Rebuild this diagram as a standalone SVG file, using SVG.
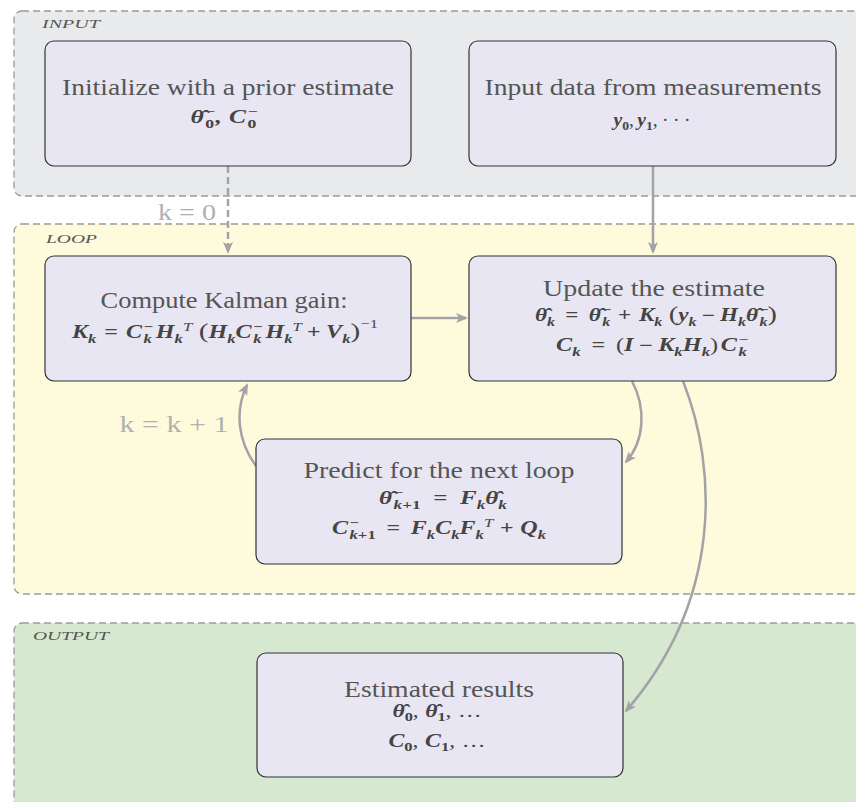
<svg xmlns="http://www.w3.org/2000/svg" width="856" height="802" viewBox="0 0 856 802">
<defs>
<style>
.grp{stroke:#9a9a9a;stroke-width:1.3;stroke-dasharray:7 4}
.glabel{font-family:"Liberation Serif",serif;font-style:italic;font-size:13px;fill:#555}
.node{fill:#e8e6f2;stroke:#333;stroke-width:1.2}
.title{font-family:"Liberation Serif",serif;font-size:24px;fill:#555}
.math{font-family:"Liberation Serif",serif;font-size:18px;font-weight:bold;font-style:italic;fill:#444}
.s{font-size:12.5px}
.up{font-style:normal}
.nb{font-weight:normal}
.big{font-size:22px;font-style:normal;font-weight:normal}
.conn{fill:none;stroke:#a3a3a7;stroke-width:2.5}
.dash{stroke-dasharray:7 4}
.lab{font-family:"Liberation Serif",serif;font-size:24px;fill:#b0b0b0}
</style>
<marker id="ah" markerUnits="userSpaceOnUse" viewBox="0 0 12 10" markerWidth="12" markerHeight="10" refX="10" refY="5" orient="auto">
<path d="M0,0 L12,5 L0,10 L3,5 Z" fill="#a3a3a7"/>
</marker>
</defs>

<g id="group-input">
<rect class="grp" x="14" y="11" width="870" height="185" rx="8" fill="#e9eaeb"/>
<text class="glabel" x="42" y="28" textLength="58" lengthAdjust="spacingAndGlyphs">INPUT</text>
</g>
<g id="group-loop">
<rect class="grp" x="14" y="224" width="870" height="370" rx="8" fill="#fefadc"/>
<text class="glabel" x="46" y="243" textLength="51" lengthAdjust="spacingAndGlyphs">LOOP</text>
</g>
<g id="group-output">
<rect class="grp" x="14" y="623" width="870" height="200" rx="8" fill="#d6e8d0"/>
<text class="glabel" x="33" y="640" textLength="76" lengthAdjust="spacingAndGlyphs">OUTPUT</text>
</g>

<g id="connectors">
<path class="conn dash" d="M228,166 L228,252" marker-end="url(#ah)"/>
<path class="conn" d="M653,166 L653,252" marker-end="url(#ah)"/>
<path class="conn" d="M411,318 L466,318" marker-end="url(#ah)"/>
<path class="conn" d="M632,381 C646,408 645,440 626,462" marker-end="url(#ah)"/>
<path class="conn" d="M256,466 C237,440 235,410 247,385" marker-end="url(#ah)"/>
<path class="conn" d="M683,381 C718,470 722,600 626,711" marker-end="url(#ah)"/>
<text class="lab" x="187" y="220" text-anchor="middle" textLength="58" lengthAdjust="spacingAndGlyphs">k = 0</text>
<text class="lab" x="174" y="432" text-anchor="middle" textLength="109" lengthAdjust="spacingAndGlyphs">k = k + 1</text>
</g>

<g id="node-init">
<rect class="node" x="45" y="41" width="366" height="125" rx="9"/>
<text class="title" x="228" y="95" text-anchor="middle" textLength="332" lengthAdjust="spacingAndGlyphs">Initialize with a prior estimate</text>
<text class="math" x="224" y="123" text-anchor="middle" textLength="67" lengthAdjust="spacingAndGlyphs">θ̂<tspan class="s up" dx="1" dy="-7">−</tspan><tspan class="s up" dx="-7" dy="12">0</tspan><tspan dy="-5" dx="1">,</tspan><tspan dx="5">C</tspan><tspan class="s up" dx="1" dy="-7">−</tspan><tspan class="s up" dx="-7" dy="12">0</tspan></text>
</g>

<g id="node-data">
<rect class="node" x="469" y="41" width="367" height="125" rx="9"/>
<text class="title" x="653" y="95" text-anchor="middle" textLength="337" lengthAdjust="spacingAndGlyphs">Input data from measurements</text>
<text class="math" x="652" y="126" text-anchor="middle" textLength="77" lengthAdjust="spacingAndGlyphs">y<tspan class="s up" dy="4">0</tspan><tspan class="nb up" dy="-4">,</tspan><tspan dx="3">y</tspan><tspan class="s up" dy="4">1</tspan><tspan class="nb up" dy="-4">,</tspan><tspan class="nb up" dx="4">·</tspan><tspan class="nb up" dx="4">·</tspan><tspan class="nb up" dx="4">·</tspan></text>
</g>

<g id="node-gain">
<rect class="node" x="45" y="256" width="366" height="125" rx="9"/>
<text class="title" x="224" y="308" text-anchor="middle" textLength="247" lengthAdjust="spacingAndGlyphs">Compute Kalman gain:</text>
<text class="math" x="225" y="338" text-anchor="middle" textLength="306" lengthAdjust="spacingAndGlyphs">K<tspan class="s" dy="5">k</tspan><tspan class="up" dy="-5" dx="6">=</tspan><tspan dx="6">C</tspan><tspan class="s up" dx="1" dy="-7">−</tspan><tspan class="s" dx="-7" dy="12">k</tspan><tspan dy="-5" dx="3">H</tspan><tspan class="s" dy="5">k</tspan><tspan class="s nb" dy="-12">T</tspan><tspan class="big" dy="7" dx="5">(</tspan>H<tspan class="s" dy="5">k</tspan><tspan dy="-5">C</tspan><tspan class="s up" dx="1" dy="-7">−</tspan><tspan class="s" dx="-7" dy="12">k</tspan><tspan dy="-5" dx="3">H</tspan><tspan class="s" dy="5">k</tspan><tspan class="s nb" dy="-12">T</tspan><tspan class="up" dy="7" dx="4">+</tspan><tspan dx="4">V</tspan><tspan class="s" dy="5">k</tspan><tspan class="big" dy="-5">)</tspan><tspan class="s up nb" dy="-10">−1</tspan></text>
</g>

<g id="node-update">
<rect class="node" x="469" y="256" width="367" height="125" rx="9"/>
<text class="title" x="654" y="296" text-anchor="middle" textLength="222" lengthAdjust="spacingAndGlyphs">Update the estimate</text>
<text class="math" x="656" y="321" text-anchor="middle" textLength="242" lengthAdjust="spacingAndGlyphs">θ̂<tspan class="s" dy="5">k</tspan><tspan class="up" dy="-5" dx="8">=</tspan><tspan dx="8">θ̂</tspan><tspan class="s up" dx="1" dy="-7">−</tspan><tspan class="s" dx="-7" dy="12">k</tspan><tspan class="up" dy="-5" dx="6">+</tspan><tspan dx="6">K</tspan><tspan class="s" dy="5">k</tspan><tspan class="big" dy="-5" dx="5">(</tspan>y<tspan class="s" dy="5">k</tspan><tspan class="up" dy="-5" dx="4">−</tspan><tspan dx="4">H</tspan><tspan class="s" dy="5">k</tspan><tspan dy="-5">θ̂</tspan><tspan class="s up" dx="1" dy="-7">−</tspan><tspan class="s" dx="-7" dy="12">k</tspan><tspan class="big" dy="-5">)</tspan></text>
<text class="math" x="652" y="351" text-anchor="middle" textLength="192" lengthAdjust="spacingAndGlyphs">C<tspan class="s" dy="5">k</tspan><tspan class="up" dy="-5" dx="8">=</tspan><tspan class="up nb" dx="8">(</tspan>I<tspan class="up" dx="4">−</tspan><tspan dx="4">K</tspan><tspan class="s" dy="5">k</tspan><tspan dy="-5">H</tspan><tspan class="s" dy="5">k</tspan><tspan class="up nb" dy="-5">)</tspan><tspan dx="2">C</tspan><tspan class="s up" dx="1" dy="-7">−</tspan><tspan class="s" dx="-7" dy="12">k</tspan></text>
</g>

<g id="node-predict">
<rect class="node" x="256" y="439" width="366" height="125" rx="9"/>
<text class="title" x="439" y="478" text-anchor="middle" textLength="271" lengthAdjust="spacingAndGlyphs">Predict for the next loop</text>
<text class="math" x="443" y="504" text-anchor="middle" textLength="128" lengthAdjust="spacingAndGlyphs">θ̂<tspan class="s up" dx="1" dy="-7">−</tspan><tspan class="s" dx="-7" dy="12">k</tspan><tspan class="s up">+1</tspan><tspan class="up" dy="-5" dx="9">=</tspan><tspan dx="9">F</tspan><tspan class="s" dy="5">k</tspan><tspan dy="-5">θ̂</tspan><tspan class="s" dy="5">k</tspan></text>
<text class="math" x="439" y="534" text-anchor="middle" textLength="214" lengthAdjust="spacingAndGlyphs">C<tspan class="s up" dx="1" dy="-7">−</tspan><tspan class="s" dx="-7" dy="12">k</tspan><tspan class="s up">+1</tspan><tspan class="up" dy="-5" dx="8">=</tspan><tspan dx="8">F</tspan><tspan class="s" dy="5">k</tspan><tspan dy="-5">C</tspan><tspan class="s" dy="5">k</tspan><tspan dy="-5">F</tspan><tspan class="s" dy="5">k</tspan><tspan class="s nb" dy="-12">T</tspan><tspan class="up" dy="7" dx="5">+</tspan><tspan dx="5">Q</tspan><tspan class="s" dy="5">k</tspan></text>
</g>

<g id="node-results">
<rect class="node" x="257" y="653" width="366" height="124" rx="9"/>
<text class="title" x="439" y="697" text-anchor="middle" textLength="190" lengthAdjust="spacingAndGlyphs">Estimated results</text>
<text class="math" x="437" y="717" text-anchor="middle" textLength="89" lengthAdjust="spacingAndGlyphs">θ̂<tspan class="s up" dy="4">0</tspan><tspan class="up nb" dy="-4">,</tspan><tspan dx="5">θ̂</tspan><tspan class="s up" dy="4">1</tspan><tspan class="up nb" dy="-4">,</tspan><tspan class="up nb" dx="5">…</tspan></text>
<text class="math" x="437" y="747" text-anchor="middle" textLength="97" lengthAdjust="spacingAndGlyphs">C<tspan class="s up" dy="4">0</tspan><tspan class="up nb" dy="-4">,</tspan><tspan dx="5">C</tspan><tspan class="s up" dy="4">1</tspan><tspan class="up nb" dy="-4">,</tspan><tspan class="up nb" dx="5">…</tspan></text>
</g>
</svg>
